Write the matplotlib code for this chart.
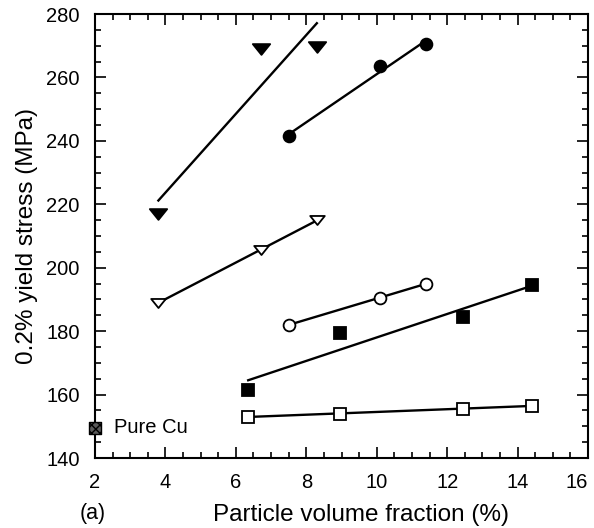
import numpy as np
import matplotlib
matplotlib.use('Agg')
import matplotlib.pyplot as plt
from matplotlib.ticker import MultipleLocator
from matplotlib.path import Path

plt.rcParams['font.family'] = ['Liberation Sans', 'DejaVu Sans']

# yield stress vs particle volume fraction, one list pair per composite series
tri_filled_x = [3.8, 6.7, 8.3]
tri_filled_y = [217, 269, 269.5]
circ_filled_x = [7.5, 10.1, 11.4]
circ_filled_y = [241.5, 263.5, 270.5]
tri_open_x = [3.8, 6.7, 8.3]
tri_open_y = [189, 205.5, 215]
circ_open_x = [7.5, 10.1, 11.4]
circ_open_y = [182, 190.5, 195]
sq_filled_x = [6.35, 8.95, 12.45, 14.4]
sq_filled_y = [161.5, 179.5, 184.5, 194.5]
sq_open_x = [6.35, 8.95, 12.45, 14.4]
sq_open_y = [153, 154, 155.5, 156.5]
pure_cu_x = [2]
pure_cu_y = [149.5]

# flattened, closed down-pointing triangle
tri_pts = [(-1, 0.62), (1, 0.62), (0, -0.62)]
tri_down = Path(tri_pts + [tri_pts[0]], closed=True)

fig = plt.figure(figsize=(5.94, 5.28), dpi=100)
ax = fig.add_axes([95 / 594, 70 / 528, 493 / 594, 444 / 528])

series = [
    (tri_filled_x, tri_filled_y, tri_down, 'black', 12.5),
    (circ_filled_x, circ_filled_y, 'o', 'black', 8.5),
    (tri_open_x, tri_open_y, tri_down, 'white', 10.5),
    (circ_open_x, circ_open_y, 'o', 'white', 8.5),
    (sq_filled_x, sq_filled_y, 's', 'black', 8.5),
    (sq_open_x, sq_open_y, 's', 'white', 8.5),
]

for xs, ys, mk, fc, ms in series:
    xs = np.array(xs)
    ys = np.array(ys)
    # least-squares line over the measured range
    k, b = np.polyfit(xs, ys, 1)
    xl = np.array([xs.min(), xs.max()])
    ax.plot(xl, k * xl + b, color='black', lw=1.7, zorder=2)
    ax.plot(xs, ys, linestyle='none', marker=mk, markersize=ms,
            markerfacecolor=fc, markeredgecolor='black', markeredgewidth=1.3,
            zorder=3)

ax.scatter(pure_cu_x, pure_cu_y, marker='s', s=70, facecolor='#5a5a5a',
           edgecolor='black', linewidth=1.0, hatch='xxxx', clip_on=False, zorder=4)
ax.text(2.55, pure_cu_y[0], 'Pure Cu', fontsize=14.5, va='center', ha='left')

ax.set_xlim(2, 16)
ax.set_ylim(140, 280)
ax.xaxis.set_major_locator(MultipleLocator(2))
ax.xaxis.set_minor_locator(MultipleLocator(0.5))
ax.yaxis.set_major_locator(MultipleLocator(20))
ax.yaxis.set_minor_locator(MultipleLocator(5))
ax.tick_params(which='both', direction='in', top=True, right=True,
               labelsize=14.5, width=1.2, pad=11)
ax.tick_params(which='major', length=8)
ax.tick_params(which='minor', length=4.5)
for s in ax.spines.values():
    s.set_linewidth(1.5)

# keep the last x label inside the figure
fig.canvas.draw()
last_tick = [t for t in ax.xaxis.get_major_ticks() if t.label1.get_text() == '16'][0]
last_tick.label1.set_horizontalalignment('right')

ax.set_xlabel('Particle volume fraction (%)', fontsize=17.5)
ax.xaxis.set_label_coords(0.54, -0.103)
ax.set_ylabel('0.2% yield stress (MPa)', fontsize=17.5)
ax.yaxis.set_label_coords(-0.115, 0.5)
fig.text(93 / 594, 1 - 513 / 528, '(a)', fontsize=15.5, ha='center', va='center')

plt.savefig('out.png', dpi=100)
plt.close()
